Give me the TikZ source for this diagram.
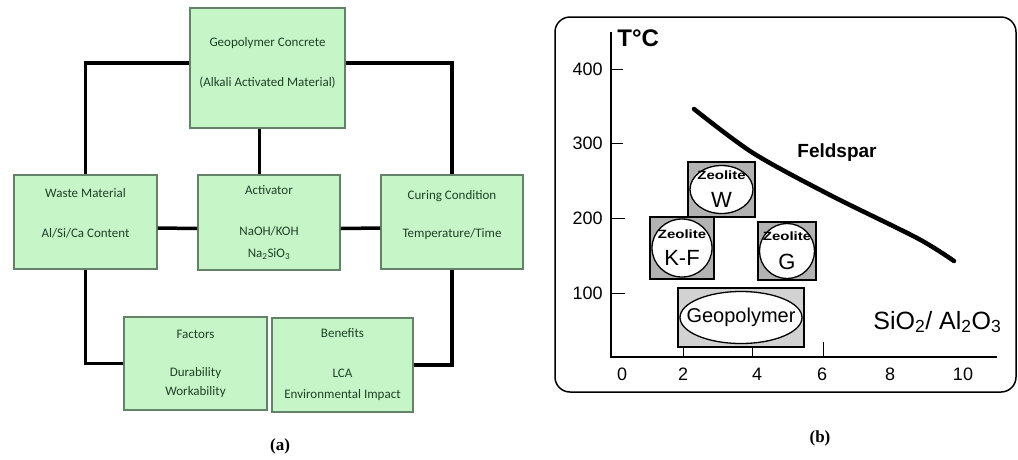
\documentclass[tikz,border=0pt]{standalone}
\usepackage{fontspec}
\setmainfont{Liberation Sans}
\newfontfamily\boxfont{Carlito}
\newfontfamily\capfont{Liberation Serif}
\usetikzlibrary{shapes.geometric}
\definecolor{boxgreen}{RGB}{198,245,200}
\definecolor{boxedge}{RGB}{100,130,104}
\definecolor{boxtext}{RGB}{30,66,36}
\newcommand{\zeolabel}{\scalebox{1.25}[1]{Zeolite}}
\begin{document}
\begin{tikzpicture}[x=1pt,y=-1pt,thick,
  flowbox/.style={draw=boxedge,line width=1.6pt,fill=boxgreen,text=boxtext,
    font=\boxfont\fontsize{13}{15}\selectfont,align=center,inner sep=0pt},
  link/.style={line width=3.5pt},
  zeobox/.style={draw,line width=1.4pt,fill=gray!60,inner sep=0pt},
  zeoell/.style={draw,line width=1.3pt,fill=white},
  zeotext/.style={align=center,inner sep=0pt,font=\fontsize{12}{13}\selectfont\bfseries},
  ticklabel/.style={font=\fontsize{18}{18}\selectfont,inner sep=0pt},
  caption/.style={font=\capfont\fontsize{17}{17}\selectfont\bfseries}]
\useasboundingbox (0,0) rectangle (1018,459);
% Teil (a): Kaesten
\node (geo) at (267.5,68) [flowbox,minimum width=155pt,minimum height=120pt]
  {Geopolymer Concrete\\[25pt](Alkali Activated Material)\\[-3pt]\mbox{}};
\node (waste) at (85.5,222) [flowbox,minimum width=143pt,minimum height=94pt]
  {Waste Material\\[25pt]Al/Si/Ca Content\\[3pt]\mbox{}};
\node (act) at (269,222.5) [flowbox,minimum width=142pt,minimum height=95pt]
  {Activator\\[26pt]NaOH/KOH\\[7pt]Na\textsubscript{2}SiO\textsubscript{3}};
\node (curing) at (452,222) [flowbox,minimum width=142pt,minimum height=94pt]
  {Curing Condition\\[23pt]Temperature/Time\\[1pt]\mbox{}};
\node (factors) at (195.5,363.5) [flowbox,minimum width=143pt,minimum height=93pt]
  {Factors\\[23pt]Durability\\[4pt]Workability};
\node (benefits) at (342.5,365) [flowbox,minimum width=141pt,minimum height=94pt]
  {Benefits\\[25pt]LCA\\[6pt]Environmental Impact};
% Teil (a): Verbindungen
\draw[link] ([yshift=5pt]geo.west) -| (waste.north);
\draw[link] ([yshift=5pt]geo.east) -| (curing.north);
\draw[link] ([xshift=-8pt]geo.south) -- ([xshift=-8pt]geo.south |- act.north);
\draw[link] ([yshift=-6pt]waste.east) -- ([yshift=-6pt]act.west);
\draw[link] ([yshift=-6pt]act.east) -- ([yshift=-6pt]curing.west);
\draw[link] (waste.south) |- (factors.west);
\draw[link] (curing.south) |- (benefits.east);
\node (capa) at (280,446) [caption] {(a)};
% Teil (b): Rahmen und Achsen
\draw[line width=1.5pt,rounded corners=15pt] (555,17) rectangle (1016,392);
\draw[line width=1.6pt] (611,32) -- (611,357) -- (997,357);
\node at (617,38) [anchor=west,inner sep=0pt,font=\fontsize{24}{24}\selectfont\bfseries] {T°C};
% Skala T
\draw (611,69) -- (623,69);
\draw (611,143) -- (623,143);
\draw (611,218) -- (625,218);
\draw (611,293) -- (625,293);
\node at (603,69) [ticklabel,anchor=east] {400};
\node at (603,143) [ticklabel,anchor=east] {300};
\node at (603,218) [ticklabel,anchor=east] {200};
\node at (603,293) [ticklabel,anchor=east] {100};
% Skala SiO2/Al2O3
\draw (683,347) -- (683,357);
\draw (752,347) -- (752,357);
\draw (823,342) -- (823,357);
\node at (622,374) [ticklabel] {0};
\node at (683,374) [ticklabel] {2};
\node at (757,374) [ticklabel] {4};
\node at (822,374) [ticklabel] {6};
\node at (890,374) [ticklabel] {8};
\node at (963,374) [ticklabel] {10};
\node at (873,322) [anchor=west,inner sep=0pt,font=\fontsize{25}{25}\selectfont]
  {SiO\textsubscript{2}/ Al\textsubscript{2}O\textsubscript{3}};
% Feldspat-Grenze
\draw[line width=4.5pt,line cap=round] plot[smooth] coordinates
  {(694,109) (753,153) (830,195) (917,238) (954,261)};
\node at (837,153) [font=\fontsize{19}{19}\selectfont\bfseries] {Feldspar};
% Zeolithe
\node (zwbox) at (721.5,189.5) [zeobox,minimum width=67pt,minimum height=55pt] {};
\draw[zeoell] (zwbox.center) ellipse [x radius=31.5pt,y radius=24pt];
\node (zw) at (zwbox) [zeotext] {\zeolabel\\[12pt]{\fontsize{22}{22}\selectfont\mdseries W}};
\node (zkfbox) at (682,248) [zeobox,minimum width=64pt,minimum height=62pt] {};
\draw[zeoell] (zkfbox.center) ellipse [x radius=30pt,y radius=29pt];
\node (zkf) at (zkfbox) [zeotext] {\zeolabel\\[11pt]{\fontsize{22}{22}\selectfont\mdseries K-F}};
\node (zgbox) at (787,251) [zeobox,minimum width=58pt,minimum height=58pt] {};
\draw[zeoell] (zgbox.center) ellipse [x radius=27.5pt,y radius=27.5pt];
\node (zg) at (zgbox) [zeotext] {\zeolabel\\[13pt]{\fontsize{22}{22}\selectfont\mdseries G}};
% Geopolymer
\node (gpbox) at (741,317.5) [zeobox,fill=gray!35,minimum width=126pt,minimum height=59pt] {};
\draw[zeoell] (gpbox.center) ellipse [x radius=61pt,y radius=26pt];
\node (gp) at (gpbox) [inner sep=0pt,font=\fontsize{20}{20}\selectfont] {Geopolymer};
\node (capb) at (820,438) [caption] {(b)};
\end{tikzpicture}
\end{document}
